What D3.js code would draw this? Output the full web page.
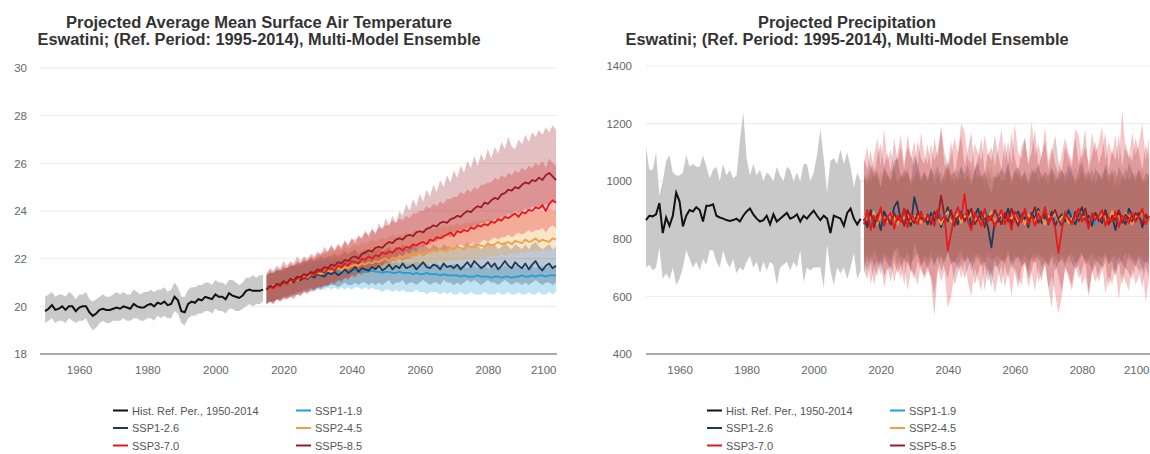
<!DOCTYPE html>
<html>
<head>
<meta charset="utf-8">
<script src="https://cdn.jsdelivr.net/npm/d3@7/dist/d3.min.js"></script>
<style>
  body { margin: 0; background: #fff; }
  svg { font-family: "Liberation Sans", Arial, sans-serif; }
</style>
</head>
<body>
<svg id="chart" width="1150" height="454"></svg>
<script>
// ---- categories / ticks ----
var histYears = d3.range(1950, 2015);
var projYears = d3.range(2015, 2101);
var xTicks = [1960, 1980, 2000, 2020, 2040, 2060, 2080, 2100];
var tempTicks = [18, 20, 22, 24, 26, 28, 30];
var precTicks = [400, 600, 800, 1000, 1200, 1400];
var scenarioNames = ["SSP1-1.9", "SSP1-2.6", "SSP2-4.5", "SSP3-7.0", "SSP5-8.5"];
var scenarioColors = ["#1f9fd8", "#1c3b5a", "#f0a03c", "#e41a1c", "#9a1c22"];

// ---- temperature (°C) ----
var tempHist = [19.8,19.9,20.05,19.85,19.9,20.0,19.85,20.0,20.0,19.8,
  19.95,20.0,20.0,19.75,19.6,19.7,19.85,19.9,19.85,19.85,
  19.9,19.95,19.9,20.0,19.95,19.9,20.1,20.0,19.95,19.95,
  20.05,20.1,20.0,20.15,20.1,20.2,20.05,20.1,20.4,20.25,
  19.8,19.75,20.1,20.2,20.15,20.3,20.25,20.4,20.35,20.3,
  20.5,20.4,20.4,20.3,20.55,20.45,20.4,20.35,20.45,20.65,
  20.7,20.65,20.65,20.65,20.7];
var tempHistLow = [19.3,19.4,19.5,19.3,19.4,19.4,19.3,19.5,19.4,19.3,
  19.4,19.4,19.5,19.2,19.0,19.1,19.3,19.4,19.3,19.3,
  19.4,19.4,19.4,19.5,19.4,19.4,19.5,19.5,19.4,19.4,
  19.5,19.5,19.4,19.6,19.5,19.6,19.5,19.5,19.8,19.7,
  19.3,19.2,19.5,19.6,19.6,19.7,19.7,19.8,19.8,19.7,
  19.9,19.8,19.8,19.7,19.9,19.9,19.8,19.8,19.9,20.0,
  20.1,20.0,20.1,20.1,20.2];
var tempHistHigh = [20.4,20.5,20.6,20.4,20.5,20.5,20.4,20.6,20.5,20.3,
  20.5,20.5,20.6,20.3,20.2,20.3,20.4,20.5,20.4,20.4,
  20.5,20.6,20.5,20.6,20.5,20.5,20.7,20.6,20.5,20.6,
  20.6,20.7,20.6,20.7,20.7,20.8,20.6,20.7,21.0,20.8,
  20.4,20.4,20.7,20.8,20.8,20.9,20.9,21.0,21.0,20.9,
  21.1,21.0,21.0,20.9,21.1,21.1,21.0,20.9,21.0,21.2,
  21.2,21.3,21.2,21.3,21.3];

var tempSsp119 = [20.75,20.8,20.85,20.9,20.95,20.95,21.0,21.05,21.1,21.1,
  21.15,21.2,21.2,21.25,21.3,21.3,21.35,21.35,21.4,21.4,
  21.4,21.45,21.45,21.4,21.45,21.45,21.45,21.5,21.45,21.45,
  21.45,21.5,21.45,21.45,21.4,21.45,21.45,21.4,21.4,21.45,
  21.4,21.4,21.4,21.35,21.4,21.35,21.35,21.4,21.35,21.35,
  21.35,21.3,21.35,21.3,21.3,21.3,21.3,21.25,21.3,21.25,
  21.25,21.25,21.3,21.25,21.25,21.25,21.2,21.25,21.25,21.2,
  21.25,21.25,21.2,21.25,21.25,21.3,21.25,21.25,21.3,21.25,
  21.3,21.3,21.25,21.3,21.3,21.3];
var tempSsp119Low = [20.1,20.2,20.2,20.3,20.3,20.3,20.4,20.4,20.5,20.5,
  20.5,20.6,20.6,20.6,20.7,20.7,20.7,20.7,20.8,20.7,
  20.8,20.7,20.8,20.7,20.8,20.7,20.8,20.8,20.7,20.8,
  20.7,20.8,20.7,20.7,20.6,20.7,20.7,20.6,20.7,20.6,
  20.7,20.6,20.6,20.6,20.7,20.6,20.6,20.5,20.6,20.6,
  20.6,20.5,20.6,20.5,20.6,20.5,20.5,20.6,20.5,20.5,
  20.6,20.5,20.5,20.5,20.6,20.5,20.5,20.5,20.6,20.5,
  20.5,20.6,20.5,20.5,20.6,20.5,20.5,20.6,20.5,20.5,
  20.6,20.5,20.5,20.6,20.5,20.6];
var tempSsp119High = [21.3,21.4,21.4,21.5,21.5,21.5,21.6,21.6,21.7,21.7,
  21.7,21.8,21.8,21.8,21.9,21.9,21.9,21.9,22.0,21.9,
  22.0,21.9,22.0,21.9,22.0,21.9,22.0,21.9,21.9,22.0,
  21.9,22.0,21.9,21.9,21.8,21.9,21.9,21.8,21.9,21.8,
  21.9,21.8,21.8,21.8,21.9,21.8,21.8,21.8,21.7,21.8,
  21.8,21.7,21.8,21.7,21.7,21.8,21.7,21.7,21.7,21.6,
  21.7,21.7,21.6,21.7,21.7,21.6,21.6,21.7,21.6,21.6,
  21.7,21.6,21.6,21.7,21.6,21.7,21.6,21.6,21.7,21.6,
  21.7,21.7,21.6,21.7,21.7,21.7];

var tempSsp126 = [20.7,20.85,20.8,20.95,20.9,21.05,20.95,21.1,21.0,21.2,
  21.1,21.25,21.15,21.3,21.2,21.35,21.3,21.25,21.4,21.35,
  21.45,21.3,21.4,21.55,21.4,21.5,21.65,21.45,21.6,21.55,
  21.5,21.65,21.55,21.7,21.5,21.6,21.75,21.55,21.7,21.6,
  21.8,21.6,21.65,21.75,21.55,21.7,21.85,21.65,21.6,21.75,
  21.7,21.55,21.8,21.65,21.7,21.6,21.75,21.55,21.7,21.85,
  21.65,21.9,21.75,21.6,21.7,21.85,21.65,21.8,21.55,21.7,
  21.9,21.7,21.6,21.85,21.7,21.6,21.8,21.55,21.75,21.9,
  21.65,21.5,21.7,21.8,21.6,21.7];
var tempSsp126Low = [20.1,20.2,20.2,20.3,20.3,20.4,20.4,20.5,20.5,20.6,
  20.6,20.7,20.7,20.8,20.7,20.8,20.8,20.8,20.9,20.9,
  20.9,20.8,20.9,21.0,20.9,20.9,21.0,20.9,21.0,21.0,
  20.9,21.0,20.9,21.0,20.9,21.0,21.1,20.9,21.0,21.0,
  21.1,20.9,21.0,21.0,20.9,21.0,21.1,21.0,20.9,21.0,
  21.0,20.9,21.1,21.0,21.0,20.9,21.0,20.9,21.0,21.1,
  21.0,21.1,21.0,20.9,21.0,21.1,21.0,21.0,20.9,21.0,
  21.1,21.0,20.9,21.0,21.0,20.9,21.0,20.9,21.0,21.1,
  21.0,20.9,21.0,21.0,20.9,21.0];
var tempSsp126High = [21.3,21.4,21.4,21.5,21.5,21.6,21.6,21.7,21.7,21.8,
  21.8,21.9,21.9,22.0,21.9,22.0,22.1,22.0,22.1,22.1,
  22.2,22.1,22.2,22.3,22.2,22.3,22.4,22.2,22.3,22.4,
  22.3,22.4,22.3,22.5,22.3,22.4,22.5,22.3,22.5,22.4,
  22.6,22.4,22.5,22.6,22.4,22.5,22.6,22.5,22.4,22.6,
  22.5,22.4,22.6,22.5,22.5,22.4,22.6,22.4,22.5,22.7,
  22.5,22.7,22.6,22.4,22.5,22.7,22.5,22.6,22.4,22.5,
  22.7,22.5,22.4,22.6,22.5,22.4,22.6,22.4,22.6,22.7,
  22.5,22.4,22.5,22.6,22.4,22.5];

var tempSsp245 = [20.7,20.8,20.85,20.95,20.9,21.0,21.05,21.0,21.15,21.1,
  21.2,21.25,21.2,21.35,21.3,21.4,21.35,21.45,21.5,21.45,
  21.55,21.6,21.5,21.65,21.6,21.7,21.75,21.7,21.8,21.75,
  21.85,21.8,21.9,21.85,21.95,22.0,21.9,22.05,22.0,22.1,
  22.05,22.15,22.1,22.2,22.15,22.25,22.2,22.3,22.25,22.35,
  22.3,22.4,22.35,22.3,22.45,22.4,22.5,22.45,22.4,22.55,
  22.5,22.45,22.6,22.55,22.5,22.65,22.55,22.6,22.7,22.6,
  22.65,22.7,22.6,22.75,22.7,22.65,22.8,22.7,22.75,22.85,
  22.7,22.8,22.75,22.7,22.85,22.8];
var tempSsp245Low = [20.1,20.2,20.2,20.3,20.3,20.4,20.4,20.5,20.5,20.6,
  20.6,20.7,20.7,20.8,20.8,20.9,20.9,21.0,21.0,21.0,
  21.1,21.1,21.1,21.2,21.2,21.2,21.3,21.3,21.3,21.3,
  21.4,21.4,21.4,21.5,21.5,21.5,21.5,21.6,21.6,21.6,
  21.6,21.7,21.7,21.7,21.7,21.8,21.7,21.8,21.8,21.8,
  21.8,21.9,21.8,21.9,21.9,21.9,21.9,22.0,21.9,22.0,
  22.0,22.0,22.0,22.1,22.0,22.1,22.1,22.1,22.1,22.2,
  22.1,22.2,22.2,22.2,22.2,22.3,22.2,22.3,22.3,22.3,
  22.3,22.4,22.3,22.4,22.4,22.4];
var tempSsp245High = [21.3,21.4,21.4,21.5,21.5,21.6,21.6,21.7,21.7,21.8,
  21.8,21.9,21.9,22.0,22.0,22.1,22.1,22.2,22.2,22.3,
  22.3,22.4,22.3,22.5,22.4,22.5,22.6,22.5,22.7,22.6,
  22.7,22.8,22.7,22.8,22.9,22.8,22.9,23.0,22.9,23.0,
  23.0,23.1,23.0,23.1,23.2,23.1,23.2,23.2,23.3,23.2,
  23.3,23.3,23.4,23.3,23.4,23.4,23.5,23.4,23.5,23.5,
  23.5,23.6,23.5,23.6,23.6,23.7,23.6,23.7,23.7,23.8,
  23.7,23.8,23.8,23.9,23.8,23.9,23.9,24.0,23.9,24.0,
  24.0,24.0,23.9,24.1,24.0,24.0];

var tempSsp370 = [20.7,20.8,20.75,20.9,20.85,21.0,20.95,21.1,21.05,21.15,
  21.25,21.15,21.3,21.4,21.3,21.45,21.5,21.4,21.55,21.6,
  21.5,21.7,21.65,21.8,21.7,21.9,21.85,21.8,22.0,21.95,
  22.1,22.0,22.15,22.1,22.25,22.2,22.3,22.25,22.4,22.45,
  22.35,22.5,22.45,22.6,22.55,22.65,22.7,22.6,22.8,22.75,
  22.9,22.85,22.95,23.0,23.1,22.95,23.15,23.1,23.2,23.15,
  23.3,23.25,23.4,23.35,23.45,23.4,23.55,23.5,23.65,23.6,
  23.75,23.7,23.8,23.9,23.75,23.95,23.9,24.05,24.0,24.15,
  24.1,24.25,24.0,24.3,24.45,24.35];
var tempSsp370Low = [20.1,20.2,20.1,20.3,20.2,20.3,20.3,20.4,20.4,20.5,
  20.5,20.6,20.6,20.7,20.7,20.8,20.8,20.9,20.9,21.0,
  21.0,21.1,21.1,21.2,21.2,21.3,21.3,21.4,21.4,21.5,
  21.5,21.6,21.6,21.7,21.7,21.8,21.8,21.9,21.9,22.0,
  21.9,22.0,22.0,22.1,22.1,22.2,22.1,22.2,22.3,22.3,
  22.3,22.4,22.3,22.4,22.5,22.4,22.5,22.6,22.5,22.6,
  22.6,22.7,22.6,22.7,22.8,22.7,22.8,22.9,22.8,22.9,
  22.9,23.0,22.9,23.0,23.1,23.0,23.1,23.2,23.1,23.2,
  23.2,23.3,23.1,23.3,23.4,23.3];
var tempSsp370High = [21.3,21.5,21.4,21.6,21.5,21.7,21.6,21.8,21.7,21.9,
  21.8,22.0,21.9,22.1,22.0,22.2,22.2,22.3,22.3,22.5,
  22.4,22.6,22.5,22.7,22.6,22.8,22.8,22.9,22.9,23.1,
  23.0,23.2,23.1,23.3,23.3,23.4,23.4,23.6,23.5,23.7,
  23.6,23.8,23.7,23.9,23.9,24.0,24.0,24.2,24.1,24.3,
  24.2,24.4,24.3,24.5,24.5,24.6,24.6,24.8,24.7,24.9,
  24.8,25.0,24.9,25.1,25.1,25.2,25.2,25.4,25.3,25.5,
  25.4,25.6,25.5,25.7,25.6,25.8,25.7,25.9,25.8,26.0,
  25.9,26.1,25.8,26.2,26.0,25.9];

var tempSsp585 = [20.7,20.85,20.8,20.95,20.9,21.05,21.0,21.15,21.1,21.25,
  21.2,21.35,21.3,21.45,21.4,21.55,21.5,21.65,21.6,21.75,
  21.7,21.85,21.8,21.95,21.9,22.05,22.1,22.0,22.2,22.25,
  22.35,22.3,22.45,22.5,22.45,22.6,22.7,22.65,22.8,22.85,
  22.8,22.95,23.0,22.95,23.1,23.15,23.1,23.25,23.3,23.4,
  23.35,23.5,23.55,23.5,23.65,23.7,23.8,23.75,23.9,24.0,
  23.95,24.1,24.2,24.15,24.35,24.3,24.45,24.55,24.5,24.7,
  24.75,24.9,24.85,25.0,24.95,25.1,25.2,25.15,25.3,25.25,
  25.4,25.3,25.5,25.6,25.45,25.3];
var tempSsp585Low = [20.1,20.2,20.1,20.3,20.2,20.4,20.3,20.4,20.3,20.5,
  20.4,20.6,20.5,20.7,20.6,20.8,20.7,20.9,20.8,21.0,
  20.9,21.1,21.0,21.2,21.1,21.3,21.2,21.4,21.3,21.5,
  21.5,21.6,21.6,21.8,21.7,21.9,21.9,22.0,22.0,22.2,
  22.1,22.3,22.2,22.4,22.3,22.5,22.5,22.6,22.6,22.8,
  22.7,22.9,22.8,23.0,22.9,23.1,23.1,23.2,23.2,23.3,
  23.3,23.4,23.4,23.5,23.5,23.6,23.5,23.7,23.6,23.8,
  23.7,23.9,23.8,24.0,23.9,24.0,24.1,24.0,24.2,24.1,
  24.2,24.1,24.3,24.2,24.4,24.3];
var tempSsp585High = [21.4,21.6,21.5,21.7,21.6,21.9,21.7,21.9,21.8,22.1,
  21.9,22.1,22.0,22.2,22.1,22.3,22.2,22.5,22.3,22.6,
  22.3,22.6,22.4,22.8,22.5,22.9,22.6,23.0,22.8,23.2,
  22.9,23.3,23.0,23.5,23.2,23.7,23.4,23.8,23.5,24.0,
  23.8,24.3,24.0,24.5,24.2,24.7,24.4,24.9,24.6,25.1,
  24.8,25.3,25.0,25.5,25.2,25.7,25.4,25.9,25.6,26.1,
  25.8,26.3,25.9,26.4,26.1,26.6,26.2,26.7,26.4,26.9,
  26.6,27.1,26.7,26.6,27.0,26.8,27.2,26.9,27.3,27.1,
  27.4,27.2,27.5,27.3,27.6,27.4];

// ---- precipitation (mm) ----
var precHist = [865,880,878,885,924,820,874,845,880,960,
  930,843,880,900,895,910,900,860,915,915,
  920,880,874,870,865,862,865,870,860,880,
  895,905,885,870,860,865,880,850,885,860,
  870,880,890,870,875,885,860,880,870,885,
  898,880,865,880,870,820,880,875,870,845,
  890,905,870,850,870];
var precHistLow = [700,710,690,700,770,660,680,660,700,640,
  660,700,760,730,700,720,690,730,710,760,
  760,720,700,760,720,700,730,680,700,690,
  720,740,700,720,680,720,690,720,710,640,
  700,710,720,690,720,700,760,650,700,690,
  700,700,700,630,780,690,640,700,680,700,
  660,700,750,660,690];
var precHistHigh = [1120,1040,1040,1100,950,1000,1070,1090,1030,1020,
  1020,1030,1090,1050,1060,1050,1050,1090,1050,1010,
  1040,1050,1000,1060,1020,1040,1010,1020,1140,1240,
  1080,1020,1060,1020,1040,1000,1030,1020,1000,1050,
  1020,1000,1050,1040,1000,1030,1000,1060,1060,1000,
  1030,1090,1180,1080,960,1070,1080,1060,1110,1060,
  1100,1050,980,1030,1000];

var precSsp119 = [860,885,850,900,870,845,890,875,860,905,
  850,880,870,895,855,875,890,860,880,870,
  895,850,875,885,860,890,870,855,880,900,
  865,875,850,890,870,880,855,895,865,875,
  885,860,870,900,850,880,875,865,890,855,
  875,895,860,880,870,850,890,875,865,885,
  860,880,895,855,870,885,865,875,890,850,
  880,870,895,860,875,885,850,870,890,865,
  880,860,885,870,855,880];
var precSsp119Low = [730,750,710,760,735,705,750,740,720,765,
  710,745,730,755,715,735,750,720,740,730,
  755,710,735,745,720,750,730,715,740,760,
  725,735,710,750,730,740,715,755,725,735,
  745,720,730,760,710,740,735,725,750,715,
  735,755,720,740,730,710,750,735,725,745,
  720,740,755,715,730,745,725,735,750,710,
  740,730,755,720,735,745,710,730,750,725,
  740,720,745,730,715,740];
var precSsp119High = [1000,1030,990,1050,1010,980,1040,1020,995,1060,
  990,1020,1010,1045,985,1015,1040,995,1025,1005,
  1050,985,1020,1035,995,1040,1010,990,1030,1055,
  1000,1020,985,1045,1010,1025,990,1050,1005,1020,
  1035,995,1010,1055,985,1030,1020,1000,1045,990,
  1020,1050,995,1030,1010,985,1045,1020,1000,1035,
  995,1025,1050,990,1010,1040,1000,1020,1045,985,
  1030,1010,1050,995,1020,1040,985,1010,1045,1000,
  1030,995,1040,1010,990,1030];

var precSsp126 = [870,840,900,860,880,830,895,870,850,910,
  930,860,905,870,845,945,900,860,880,850,
  890,860,900,840,875,910,865,880,850,895,
  870,900,845,880,905,860,875,840,770,860,
  860,885,870,905,850,880,895,860,875,840,
  890,870,905,855,880,860,895,845,870,885,
  860,900,870,850,885,910,865,880,845,890,
  870,855,900,865,880,830,895,870,850,905,
  880,860,890,840,875,865];
var precSsp126Low = [720,690,745,705,725,675,740,715,695,755,
  770,705,730,715,690,785,750,705,725,695,
  735,705,745,685,720,755,710,725,695,740,
  715,745,690,725,750,705,720,685,630,705,
  705,730,715,750,695,725,740,705,720,685,
  735,715,750,700,725,705,740,690,715,730,
  705,745,715,695,730,755,710,725,690,735,
  715,700,745,710,725,675,740,715,695,750,
  725,705,735,685,720,710];
var precSsp126High = [1020,990,1060,1010,1040,980,1050,1025,1000,1070,
  1080,1010,1040,1025,995,1090,1060,1010,1035,1000,
  1045,1015,1055,990,1030,1065,1020,1035,1000,1050,
  1025,1060,995,1035,1065,1015,1030,990,960,1015,
  1015,1045,1025,1065,1000,1035,1050,1015,1030,990,
  1045,1025,1060,1005,1035,1015,1050,995,1025,1040,
  1015,1060,1025,1000,1040,1070,1020,1035,995,1045,
  1025,1005,1060,1020,1035,980,1050,1025,1000,1065,
  1035,1010,1045,990,1030,1020];

var precSsp245 = [880,860,875,895,850,885,870,860,890,875,
  850,880,870,890,860,875,885,855,880,870,
  865,890,875,850,880,895,860,875,885,855,
  880,870,890,860,875,850,885,870,895,860,
  875,885,855,880,870,890,860,875,850,885,
  870,860,895,875,850,880,870,890,860,875,
  885,855,870,895,860,880,875,850,890,870,
  860,885,875,855,895,870,880,860,890,875,
  850,885,870,895,860,870];
var precSsp245Low = [740,715,730,755,705,745,725,715,750,730,
  705,740,725,750,715,730,745,710,740,725,
  720,750,730,705,740,755,715,730,745,710,
  740,725,750,715,730,705,745,725,755,715,
  730,745,710,740,725,750,715,730,705,745,
  725,715,755,730,705,740,725,750,715,730,
  745,710,725,755,715,740,730,705,750,725,
  715,745,730,710,755,725,740,715,750,730,
  705,745,725,755,715,725];
var precSsp245High = [1030,1005,1020,1050,995,1035,1015,1000,1045,1025,
  990,1030,1015,1040,1000,1020,1035,995,1030,1015,
  1010,1045,1020,990,1030,1050,1000,1025,1040,995,
  1030,1015,1045,1000,1025,990,1035,1015,1050,1000,
  1020,1035,995,1030,1015,1045,1000,1025,990,1035,
  1015,1000,1050,1025,990,1030,1015,1045,1000,1020,
  1035,995,1015,1050,1000,1030,1020,990,1045,1015,
  1000,1035,1020,995,1050,1015,1030,1000,1045,1020,
  990,1035,1015,1050,1000,1015];

var precSsp370 = [850,900,830,880,860,910,845,875,890,835,
  880,860,905,840,885,870,850,895,860,880,
  870,845,900,865,880,760,820,880,910,870,
  955,860,830,890,870,845,905,860,880,840,
  875,900,850,885,830,895,870,860,905,850,
  880,845,890,870,910,855,875,840,750,830,
  895,870,850,880,905,860,875,835,890,865,
  880,900,845,875,860,895,840,880,870,855,
  890,860,875,905,850,880];
var precSsp370Low = [680,740,640,700,670,720,630,690,710,650,
  700,660,720,620,690,680,640,710,660,690,
  670,610,700,650,690,560,600,680,720,660,
  730,650,600,700,660,620,710,650,690,610,
  670,710,630,690,600,700,660,640,720,630,
  680,620,700,650,720,630,670,610,540,600,
  700,660,620,690,710,640,670,600,690,650,
  680,710,610,670,640,700,590,680,650,620,
  700,640,670,720,580,660];
var precSsp370High = [1060,1120,1030,1090,1150,1050,1180,1070,1110,1040,
  1100,1160,1060,1120,1080,1140,1050,1170,1090,1060,
  1130,1070,1110,1180,1060,1040,1090,1150,1100,1200,
  1170,1080,1060,1130,1100,1070,1160,1090,1120,1050,
  1110,1180,1070,1140,1060,1200,1100,1080,1150,1060,
  1210,1090,1130,1080,1190,1070,1120,1060,1030,1100,
  1150,1100,1070,1180,1160,1080,1120,1060,1170,1100,
  1130,1190,1070,1140,1090,1160,1060,1250,1110,1080,
  1170,1090,1130,1200,1070,1150];

var precSsp585 = [870,855,895,840,880,900,860,875,850,890,
  865,880,845,900,870,855,890,875,860,885,
  850,895,870,950,880,860,900,845,875,890,
  860,880,905,850,870,895,840,880,865,900,
  875,850,890,860,905,870,845,885,895,860,
  880,910,855,875,890,850,880,900,865,845,
  885,870,855,895,860,880,905,850,875,890,
  860,875,895,850,880,865,900,855,885,870,
  860,890,875,850,885,870];
var precSsp585Low = [690,660,720,640,700,730,670,700,650,720,
  680,710,640,730,690,660,720,690,670,710,
  650,530,690,740,700,660,720,640,680,710,
  660,700,730,640,680,720,620,700,670,730,
  690,640,710,660,730,680,630,700,720,660,
  690,740,650,680,710,630,560,720,670,620,
  700,680,640,720,660,690,730,610,680,710,
  650,690,720,630,700,670,720,640,700,680,
  660,710,690,630,700,670];
var precSsp585High = [1080,1040,1110,1020,1090,1130,1050,1100,1030,1150,
  1070,1120,1040,1160,1090,1050,1140,1080,1060,1130,
  1040,1150,1080,1190,1100,1060,1140,1030,1090,1160,
  1050,1110,1170,1040,1080,1150,1030,1100,1070,1160,
  1090,1040,1140,1060,1170,1080,1030,1120,1150,1060,
  1100,1180,1050,1090,1140,1040,1100,1160,1070,1030,
  1120,1080,1050,1150,1060,1100,1180,1040,1090,1140,
  1060,1100,1170,1040,1110,1070,1160,1050,1130,1090,
  1070,1150,1100,1040,1130,1080];

// sanity check on lengths
[tempHist, tempHistLow, tempHistHigh, precHist, precHistLow, precHistHigh].forEach(function (a, i) {
  if (a.length !== histYears.length) throw new Error("hist array " + i + " has " + a.length);
});
[tempSsp119, tempSsp119Low, tempSsp119High, tempSsp126, tempSsp126Low, tempSsp126High,
 tempSsp245, tempSsp245Low, tempSsp245High, tempSsp370, tempSsp370Low, tempSsp370High,
 tempSsp585, tempSsp585Low, tempSsp585High,
 precSsp119, precSsp119Low, precSsp119High, precSsp126, precSsp126Low, precSsp126High,
 precSsp245, precSsp245Low, precSsp245High, precSsp370, precSsp370Low, precSsp370High,
 precSsp585, precSsp585Low, precSsp585High].forEach(function (a, i) {
  if (a.length !== projYears.length) throw new Error("proj array " + i + " has " + a.length);
});

var svg = d3.select("#chart");

function zipBand(years, lo, hi, mean) {
  return years.map(function (yr, i) { return { year: yr, lo: lo[i], hi: hi[i], v: mean[i] }; });
}

function drawPanel(p) {
  var g = svg.append("g");
  var x = d3.scaleLinear().domain(p.xDomain).range([p.left, p.right]);
  var y = d3.scaleLinear().domain([p.yTicks[0], p.yTicks[p.yTicks.length - 1]]).range([354, p.top]);

  // gridlines
  g.append("g").selectAll("line")
    .data(p.yTicks.slice(1))
    .join("line")
    .attr("x1", p.left).attr("x2", p.right + 1)
    .attr("y1", function (d) { return y(d); })
    .attr("y2", function (d) { return y(d); })
    .attr("stroke", "#ebebeb")
    .attr("stroke-width", 1);

  // y axis labels
  var yAxis = g.append("g")
    .attr("transform", "translate(" + p.labelX + ",0)")
    .call(d3.axisLeft(y).tickValues(p.yTicks).tickFormat(d3.format("d")).tickSize(0).tickPadding(0));
  yAxis.select(".domain").remove();
  yAxis.selectAll("text")
    .style("font-size", "11.5px")
    .style("fill", "#666")
    .style("font-family", "'Liberation Sans', Arial, sans-serif");

  var area = d3.area()
    .x(function (d) { return x(d.year); })
    .y0(function (d) { return y(d.lo); })
    .y1(function (d) { return y(d.hi); });
  var line = d3.line()
    .x(function (d) { return x(d.year); })
    .y(function (d) { return y(d.v); });

  // historical band
  var hist = zipBand(histYears, p.histLow, p.histHigh, p.hist);
  g.append("path").datum(hist).attr("d", area).attr("fill", "#c9c9c9");

  // scenario bands
  p.bandOrder.forEach(function (k) {
    var s = zipBand(projYears, p.scen[k].lo, p.scen[k].hi, p.scen[k].v);
    g.append("path").datum(s).attr("d", area)
      .attr("fill", scenarioColors[k]).attr("fill-opacity", p.bandOpacity);
  });

  // baseline
  g.append("line")
    .attr("x1", p.left).attr("x2", p.right + 1)
    .attr("y1", y(p.yTicks[0])).attr("y2", y(p.yTicks[0]))
    .attr("stroke", "#8c8c8c").attr("stroke-width", 1.5);

  // lines
  g.append("path").datum(hist).attr("d", line)
    .attr("fill", "none").attr("stroke", "#111").attr("stroke-width", 2);
  p.lineOrder.forEach(function (k) {
    var s = zipBand(projYears, p.scen[k].lo, p.scen[k].hi, p.scen[k].v);
    g.append("path").datum(s).attr("d", line)
      .attr("fill", "none").attr("stroke", scenarioColors[k])
      .attr("stroke-width", 1.8).attr("stroke-linejoin", "round");
  });

  // x axis labels
  var xAxis = g.append("g")
    .attr("transform", "translate(0,366)")
    .call(d3.axisBottom(x).tickValues(xTicks).tickFormat(d3.format("d")).tickSize(0).tickPadding(0));
  xAxis.select(".domain").remove();
  xAxis.selectAll("text")
    .style("font-size", "11.5px")
    .style("fill", "#666")
    .style("font-family", "'Liberation Sans', Arial, sans-serif")
    .filter(function (d) { return d === 2100; })
    .attr("text-anchor", "end");

  // title
  var t = g.append("text")
    .attr("text-anchor", "middle")
    .style("font-weight", "bold")
    .style("font-size", "16px")
    .style("fill", "#333");
  t.append("tspan").attr("x", p.titleX).attr("y", 28)
    .attr("textLength", p.title1Len).attr("lengthAdjust", "spacingAndGlyphs").text(p.title1);
  t.append("tspan").attr("x", p.titleX).attr("y", 45)
    .attr("textLength", p.title2Len).attr("lengthAdjust", "spacingAndGlyphs").text(p.title2);

  // legend
  var items = [
    { name: "Hist. Ref. Per., 1950-2014", color: "#111", col: 0, row: 0 },
    { name: scenarioNames[0], color: scenarioColors[0], col: 1, row: 0 },
    { name: scenarioNames[1], color: scenarioColors[1], col: 0, row: 1 },
    { name: scenarioNames[2], color: scenarioColors[2], col: 1, row: 1 },
    { name: scenarioNames[3], color: scenarioColors[3], col: 0, row: 2 },
    { name: scenarioNames[4], color: scenarioColors[4], col: 1, row: 2 }
  ];
  var leg = g.append("g").selectAll("g").data(items).join("g")
    .attr("transform", function (d) {
      return "translate(" + p.legendCols[d.col] + "," + (410.5 + d.row * 17.5) + ")";
    });
  leg.append("line").attr("x1", 0).attr("x2", 15).attr("y1", 0).attr("y2", 0)
    .attr("stroke", function (d) { return d.color; }).attr("stroke-width", 2);
  leg.append("text").attr("x", 19).attr("y", 4)
    .style("font-size", "11px").style("fill", "#555")
    .text(function (d) { return d.name; });
}

drawPanel({
  left: 40, right: 556, top: 68, labelX: 27,
  xDomain: [1948.5, 2100],
  yTicks: tempTicks,
  hist: tempHist, histLow: tempHistLow, histHigh: tempHistHigh,
  scen: [
    { v: tempSsp119, lo: tempSsp119Low, hi: tempSsp119High },
    { v: tempSsp126, lo: tempSsp126Low, hi: tempSsp126High },
    { v: tempSsp245, lo: tempSsp245Low, hi: tempSsp245High },
    { v: tempSsp370, lo: tempSsp370Low, hi: tempSsp370High },
    { v: tempSsp585, lo: tempSsp585Low, hi: tempSsp585High }
  ],
  bandOrder: [0, 1, 2, 3, 4],
  lineOrder: [0, 1, 2, 3, 4],
  bandOpacity: 0.28,
  titleX: 259, title1: "Projected Average Mean Surface Air Temperature", title1Len: 386,
  title2: "Eswatini; (Ref. Period: 1995-2014), Multi-Model Ensemble", title2Len: 443,
  legendCols: [113, 296]
});

drawPanel({
  left: 646, right: 1149, top: 66, labelX: 632,
  xDomain: [1950, 2100],
  yTicks: precTicks,
  hist: precHist, histLow: precHistLow, histHigh: precHistHigh,
  scen: [
    { v: precSsp119, lo: precSsp119Low, hi: precSsp119High },
    { v: precSsp126, lo: precSsp126Low, hi: precSsp126High },
    { v: precSsp245, lo: precSsp245Low, hi: precSsp245High },
    { v: precSsp370, lo: precSsp370Low, hi: precSsp370High },
    { v: precSsp585, lo: precSsp585Low, hi: precSsp585High }
  ],
  bandOrder: [0, 1, 2, 3, 4],
  lineOrder: [0, 1, 2, 4, 3],
  bandOpacity: 0.25,
  titleX: 847, title1: "Projected Precipitation", title1Len: 178,
  title2: "Eswatini; (Ref. Period: 1995-2014), Multi-Model Ensemble", title2Len: 443,
  legendCols: [707, 890]
});
</script>
</body>
</html>
